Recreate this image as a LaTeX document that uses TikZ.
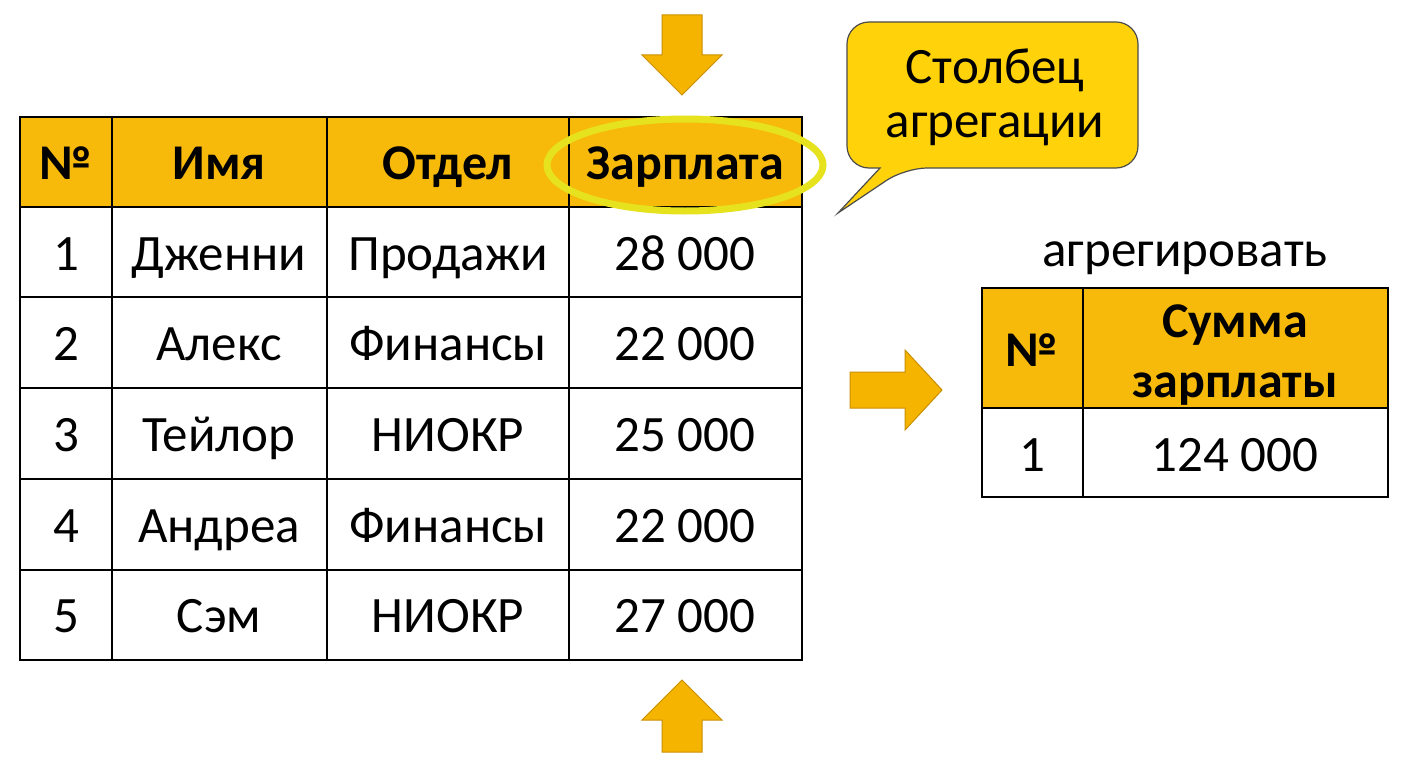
\documentclass[tikz,border=0pt]{standalone}
\usepackage{fontspec}
\setmainfont{Carlito}
\definecolor{hdr}{HTML}{F7BA0A}
\definecolor{arr}{HTML}{F5B400}
\definecolor{arrd}{HTML}{C98F00}
\definecolor{ell}{HTML}{E6E21E}
\definecolor{call}{HTML}{FFD20A}
\begin{document}
\begin{tikzpicture}[x=1pt,y=-1pt,
  fix/.style={text height=0.64em,text depth=0pt,inner sep=0pt,yshift=-13pt},
  cell/.style={fix,font=\fontsize{51}{56}\selectfont},
  hcell/.style={fix,font=\fontsize{50}{56}\selectfont\bfseries},
  ar/.style={fill=arr,draw=arrd,line width=1pt,line join=miter},
  grid/.style={line width=2pt}]
\useasboundingbox (0,0) rectangle (1408,768);
\fill[white] (0,0) rectangle (1408,768);
% main table
\fill[hdr] (20,117) rectangle (802,207);
\draw[grid] (20,117) rectangle (802,660);
\foreach \x in {112,327,569} \draw[grid] (\x,117) -- (\x,660);
\foreach \y in {207,297,388,479,570} \draw[grid] (20,\y) -- (802,\y);
\node[hcell] (h1) at (66,163) {№};
\node[hcell] (h2) at (219,163) {Имя};
\node[hcell] (h3) at (448,163) {Отдел};
\node[hcell] (h4) at (685,163) {Зарплата};
\foreach \n/\a/\b/\c [count=\i] in {1/Дженни/Продажи/28 000,2/Алекс/Финансы/22 000,3/Тейлор/НИОКР/25 000,4/Андреа/Финансы/22 000,5/Сэм/НИОКР/27 000}{
  \pgfmathsetmacro\yy{254+90.6*(\i-1)}
  \node[cell] (r\i a) at (66,\yy) {\n};
  \node[cell] (r\i b) at (219,\yy) {\a};
  \node[cell] (r\i c) at (448,\yy) {\b};
  \node[cell] (r\i d) at (685,\yy) {\c};
}
% ellipse
\draw[ell,line width=7pt] (685,165) ellipse [x radius=138,y radius=46];
% down arrow
\draw[ar] (662,15) -- (702,15) -- (702,55) -- (722,55) -- (682,95) -- (642,55) -- (662,55) -- cycle;
% up arrow
\draw[ar] (682,680) -- (722,720) -- (702,720) -- (702,752) -- (662,752) -- (662,720) -- (642,720) -- cycle;
% right arrow
\draw[ar] (850,372) -- (905,372) -- (905,350) -- (942,390) -- (905,430) -- (905,408) -- (850,408) -- cycle;
% callout
\draw[fill=call,draw=black!70,line width=1.2pt,rounded corners=22pt]
  (847,22) -- (1138,22) -- (1138,168) -- (905,168) [sharp corners] -- (838,213) -- (880,168) [rounded corners=22pt] -- (847,168) -- cycle;
\node[font=\fontsize{51}{54}\selectfont,align=center] (cl) at (995,97) {Столбец\\агрегации};
% small table
\node[fix,font=\fontsize{51}{56}\selectfont] (ag) at (1185,250) {агрегировать};
\fill[hdr] (982,288) rectangle (1388,408);
\draw[grid] (982,288) rectangle (1388,497);
\draw[grid] (1083,288) -- (1083,497);
\draw[grid] (982,408) -- (1388,408);
\node[hcell] (s1) at (1032,350) {№};
\node[font=\fontsize{50}{60}\selectfont\bfseries,align=center] (s2) at (1235,355) {Сумма\\зарплаты};
\node[cell] (s3) at (1032,455) {1};
\node[cell] (s4) at (1235,455) {124 000};
\end{tikzpicture}
\end{document}
